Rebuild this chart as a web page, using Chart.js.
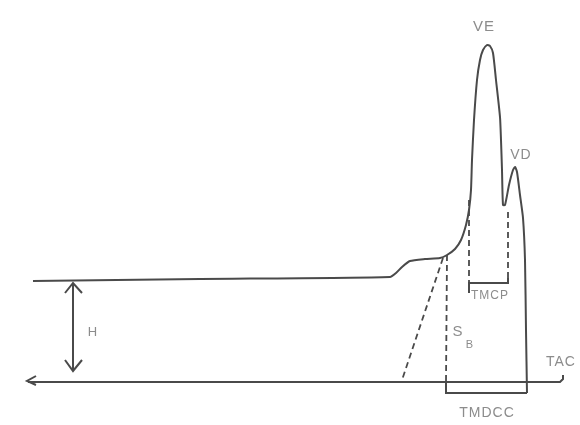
<!DOCTYPE html>
<html>
<head>
<meta charset="utf-8">
<script src="https://cdn.jsdelivr.net/npm/chart.js@4/dist/chart.umd.min.js"></script>
<style>
  body { margin: 0; background: #fff; }
  canvas { display: block; }
</style>
</head>
<body>
<canvas id="mycanvas" width="580" height="425"></canvas>
<script>
// time (x) and pressure (y) of the traced curve, y = 0 on the TAC axis
var curveX = [33, 200, 390, 396, 402, 410, 425, 440, 447, 455, 461, 466, 469, 471, 472, 474, 477, 480, 483, 487, 490, 493, 496, 500, 501, 502, 503, 505, 509, 513, 515, 517, 520, 523, 525, 526, 527];
var curveY = [101, 103, 105, 109, 115, 121, 123, 124, 127, 133, 142, 157, 172, 192, 222, 262, 302, 322, 332, 337, 336, 329, 302, 265, 242, 212, 177, 177, 197, 212, 215, 210, 187, 164, 122, 52, -11];

// TAC axis with its hook and left arrow
var axisX = [563, 563, 560, 28];
var axisY = [7, 3, 0, 0];
var axisArrowX = [36, 27, 36];
var axisArrowY = [6, 1, -3];

// H: distance between baseline and TAC axis
var hX = [73, 73];
var hY = [98, 12];
var hTopX = [65, 73, 82];
var hTopY = [89, 99, 89];
var hBotX = [65, 73, 82];
var hBotY = [22, 11, 22];

// dashed construction lines
var slopeX = [443, 402];
var slopeY = [124, 2];
var startX = [447, 446];
var startY = [127, 0];
var cpLeftX = [469, 469];
var cpLeftY = [182, 99];
var cpRightX = [508, 508];
var cpRightY = [170, 99];

// brackets
var tmccX = [527, 446, 446];
var tmccY = [-11, -11, 0];
var tmcpX = [469, 469, 508, 508];
var tmcpY = [89, 99, 99, 104];

// labels
var labelText = ['VE', 'VD', 'TMCP', 'S', 'B', 'TAC', 'TMDCC', 'H'];
var labelX = [484, 521, 490, 458, 470, 561, 487, 93];
var labelY = [355, 227, 86, 50, 37, 20, -31, 50];
var labelSize = [15, 14, 12, 15, 11, 14, 14, 13];

function pts(xs, ys) {
  var out = [];
  for (var i in xs) {
    out.push({x: xs[i], y: ys[i]});
  }
  return out;
}

function line(xs, ys, dashed) {
  return {
    data: pts(xs, ys),
    showLine: true,
    borderColor: '#4a4a4a',
    borderWidth: dashed ? 1.8 : 2,
    borderDash: dashed ? [6, 4] : [],
    pointRadius: 0,
    tension: 0,
    fill: false
  };
}

var curve = line(curveX, curveY, false);
curve.tension = 0.2;

var labels = {
  id: 'labels',
  afterDraw: function(chart) {
    var c = chart.ctx;
    var sx = chart.scales.x;
    var sy = chart.scales.y;
    c.save();
    c.fillStyle = '#8c8c8c';
    c.textAlign = 'center';
    c.textBaseline = 'middle';
    c.letterSpacing = '1px';
    for (var i in labelText) {
      c.font = labelSize[i] + 'px "Liberation Sans"';
      c.fillText(labelText[i], sx.getPixelForValue(labelX[i]), sy.getPixelForValue(labelY[i]));
    }
    c.restore();
  }
};

var ctx = document.getElementById('mycanvas');

var diagram = new Chart(ctx, {
  type: 'scatter',
  data: {
    datasets: [
      curve,
      line(axisX, axisY, false),
      line(axisArrowX, axisArrowY, false),
      line(hX, hY, false),
      line(hTopX, hTopY, false),
      line(hBotX, hBotY, false),
      line(slopeX, slopeY, true),
      line(startX, startY, true),
      line(cpLeftX, cpLeftY, true),
      line(cpRightX, cpRightY, true),
      line(tmccX, tmccY, false),
      line(tmcpX, tmcpY, false)
    ]
  },
  options: {
    responsive: false,
    animation: false,
    devicePixelRatio: 1,
    layout: { padding: 0 },
    plugins: { legend: { display: false }, tooltip: { enabled: false } },
    scales: {
      x: { type: 'linear', min: 0, max: 580, display: false },
      y: { type: 'linear', min: -43, max: 382, display: false }
    }
  },
  plugins: [labels]
});
</script>
</body>
</html>
